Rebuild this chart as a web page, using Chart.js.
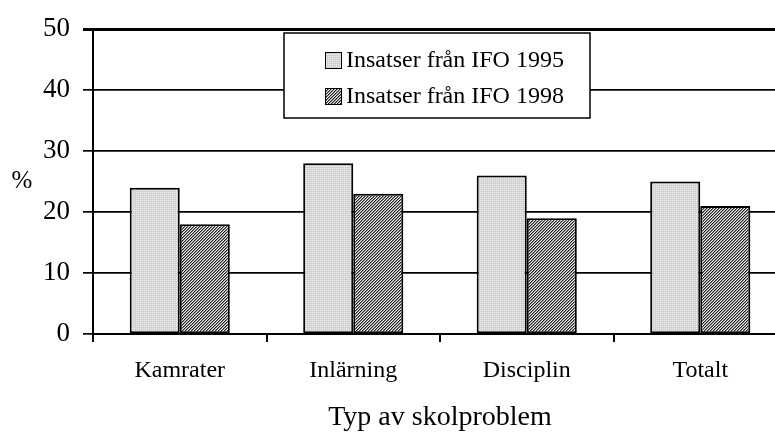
<!DOCTYPE html>
<html>

<head>
    <title>Typ av skolproblem</title>
    <meta charset="utf-8">
    <script src="https://cdn.jsdelivr.net/npm/chart.js@4.4.1/dist/chart.umd.min.js"></script>
    <style>
        html, body { margin: 0; padding: 0; background: #fff; overflow: hidden; }
        #wrap { width: 788px; height: 434px; }
    </style>
    <script>
        var categories = ["Kamrater", "Inlärning", "Disciplin", "Totalt"];
        var seriesNames = ["Insatser från IFO 1995", "Insatser från IFO 1998"];
        var values1995 = [24, 28, 26, 25];
        var values1998 = [18, 23, 19, 21];
        var yTicks = [0, 10, 20, 30, 40, 50];

        var serif = "'Liberation Serif', 'Times New Roman', serif";

        function dottedPattern() {
            var c = document.createElement("canvas");
            c.width = 2; c.height = 2;
            var g = c.getContext("2d");
            g.fillStyle = "#d2d2d2";
            g.fillRect(0, 0, 2, 2);
            g.fillStyle = "#f0f0f0";
            g.fillRect(0, 0, 1, 1);
            return g.createPattern(c, "repeat");
        }

        function hatchPattern() {
            var c = document.createElement("canvas");
            c.width = 3; c.height = 3;
            var g = c.getContext("2d");
            g.fillStyle = "#ececec";
            g.fillRect(0, 0, 3, 3);
            for (var i = 0; i < 3; i++) {
                g.fillStyle = "#222222";
                g.fillRect(i, 2 - i, 1, 1);
                g.fillStyle = "#8a8a8a";
                g.fillRect((i + 1) % 3, 2 - i, 1, 1);
            }
            return g.createPattern(c, "repeat");
        }

        // legend box and the "%" label drawn on top of the chart
        var extras = {
            id: "extras",
            afterDraw: function(chart) {
                var ctx = chart.ctx;
                ctx.save();
                ctx.fillStyle = "#fff";
                ctx.fillRect(284, 33, 306, 85);
                ctx.strokeStyle = "#000";
                ctx.lineWidth = 1.5;
                ctx.strokeRect(284, 33, 306, 85);
                ctx.font = "24px " + serif;
                ctx.textBaseline = "alphabetic";
                ctx.textAlign = "left";
                chart.data.datasets.forEach(function(ds, i) {
                    var y = 52 + i * 36;
                    ctx.fillStyle = ds.backgroundColor;
                    ctx.fillRect(325, y, 16, 16);
                    ctx.lineWidth = 1;
                    ctx.strokeRect(325.5, y + 0.5, 16, 16);
                    ctx.fillStyle = "#000";
                    ctx.fillText(ds.label, 346, y + 15);
                });
                ctx.font = "25px " + serif;
                ctx.textAlign = "center";
                ctx.textBaseline = "middle";
                ctx.fillText("%", 22, 181);
                ctx.restore();
            }
        };

        function LoadChart() {
            var ctx = document.getElementById("myChart");
            return new Chart(ctx, {
                type: "bar",
                plugins: [extras],
                data: {
                    labels: categories,
                    datasets: [{
                        label: seriesNames[0],
                        data: values1995,
                        backgroundColor: dottedPattern(),
                        borderColor: "#000",
                        borderWidth: 2,
                        borderSkipped: false
                    }, {
                        label: seriesNames[1],
                        data: values1998,
                        backgroundColor: hatchPattern(),
                        borderColor: "#000",
                        borderWidth: 2,
                        borderSkipped: false
                    }]
                },
                options: {
                    responsive: true,
                    maintainAspectRatio: false,
                    animation: false,
                    layout: { padding: { top: 24, right: 1, left: 0, bottom: 0 } },
                    datasets: { bar: { categoryPercentage: 0.577, barPercentage: 1.0 } },
                    plugins: {
                        legend: { display: false },
                        tooltip: { enabled: false }
                    },
                    scales: {
                        x: {
                            afterFit: function(s) { s.height = 100; },
                            grid: {
                                offset: true,
                                drawOnChartArea: false,
                                color: "#000",
                                lineWidth: 2,
                                tickLength: 8
                            },
                            border: { color: "#000", width: 2 },
                            ticks: {
                                color: "#000",
                                padding: 14,
                                font: { family: serif, size: 24 }
                            },
                            title: {
                                display: true,
                                text: "Typ av skolproblem",
                                color: "#000",
                                padding: { top: 4, bottom: 0 },
                                font: { family: serif, size: 28 }
                            }
                        },
                        y: {
                            min: 0,
                            max: 50,
                            afterFit: function(s) { s.width = 93; },
                            afterBuildTicks: function(s) {
                                s.ticks = yTicks.map(function(v) { return { value: v }; });
                            },
                            grid: {
                                color: "#000",
                                lineWidth: function(c) { return c.tick && c.tick.value === 50 ? 3 : 1.7; },
                                tickLength: 10
                            },
                            border: { color: "#000", width: 2 },
                            ticks: {
                                color: "#000",
                                padding: 13,
                                font: { family: serif, size: 27 }
                            }
                        }
                    }
                }
            });
        }
    </script>
</head>

<body>
    <div id="wrap"><canvas id="myChart"></canvas></div>
    <script>
        var chart = LoadChart()
    </script>
</body>

</html>
